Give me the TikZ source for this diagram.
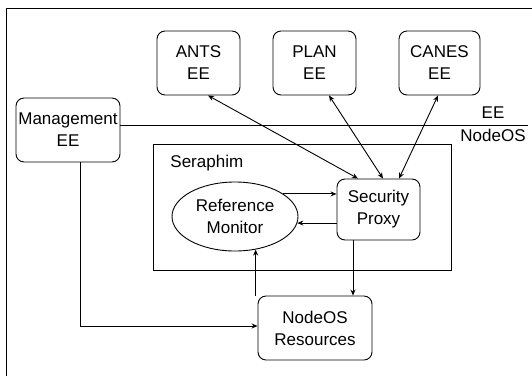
\documentclass[tikz,border=0pt]{standalone}
\usepackage{fontspec}
\setmainfont{Liberation Sans}
\usetikzlibrary{arrows.meta,shapes.geometric}

\begin{document}
\begin{tikzpicture}[x=1pt,y=-1pt,
  line width=0.9pt,
  >={Stealth[length=6pt,width=5pt]},
  every node/.style={font=\fontsize{17}{22}\selectfont,inner sep=0pt,align=center},
  eebox/.style={draw,rounded corners=8pt,minimum width=83pt,minimum height=64pt},
  plainbox/.style={draw,minimum width=#1},
]
\useasboundingbox (0,0) rectangle (532,376);

% outer frame (only left and top edges fall inside the page)
\coordinate (fbl) at (6,376);
\coordinate (ftl) at (6,8);
\coordinate (ftr) at (532,8);
\draw[line width=0.8pt] (fbl) -- (ftl) -- (ftr);

% execution environments
\node[eebox] (ants)  at (198.5,63) {ANTS\\EE};
\node[eebox] (plan)  at (314.5,63) {PLAN\\EE};
\node[eebox,minimum width=81pt] (canes) at (439.5,63) {CANES\\EE};
\node[eebox,minimum width=104pt] (mgmt) at (68,130) {Management\\EE};

% EE / NodeOS boundary
\coordinate (lineend) at (528,125);
\draw ([yshift=5pt]mgmt.east) -- (lineend);
\node (eelbl) at (493,113) {EE};
\node (oslbl) at (493,135) {NodeOS};

% Seraphim
\node[draw,minimum width=298pt,minimum height=126pt] (seraph) at (302,207) {};
\node[anchor=west] (seraphlbl) at (170,163) {Seraphim};
\node[draw,ellipse,minimum width=126pt,minimum height=69pt] (refmon) at (235,216.5) {Reference\\Monitor};
\node[draw,rounded corners=8pt,minimum width=83pt,minimum height=61pt] (proxy) at (378.5,209.5) {Security\\Proxy};

% resources
\node[draw,rounded corners=8pt,minimum width=114pt,minimum height=64pt] (res) at (315,328) {NodeOS\\Resources};

% EE <-> proxy
\draw[<->] ([xshift=9.5pt]ants.south) -- ([xshift=-20.5pt]proxy.north);
\draw[<->] ([xshift=14.5pt]plan.south) -- ([xshift=4.5pt]proxy.north);
\draw[<->] ([xshift=-1.5pt]canes.south) -- ([xshift=20.5pt]proxy.north);

% monitor <-> proxy
\draw[->] (refmon.25) -- (refmon.25 -| proxy.west);
\draw[->] (refmon.-6 -| proxy.west) -- (refmon.-6);

% resources / monitor / proxy
\draw[->] (refmon.-58.5 |- res.north) -- (refmon.-58.5);
\draw[->] ([xshift=-25.5pt]proxy.south) -- ([xshift=-25.5pt]proxy.south |- res.north);

% management path to resources
\draw[->] ([xshift=12pt]mgmt.south) |- ([yshift=2pt]res.west);
\end{tikzpicture}
\end{document}
